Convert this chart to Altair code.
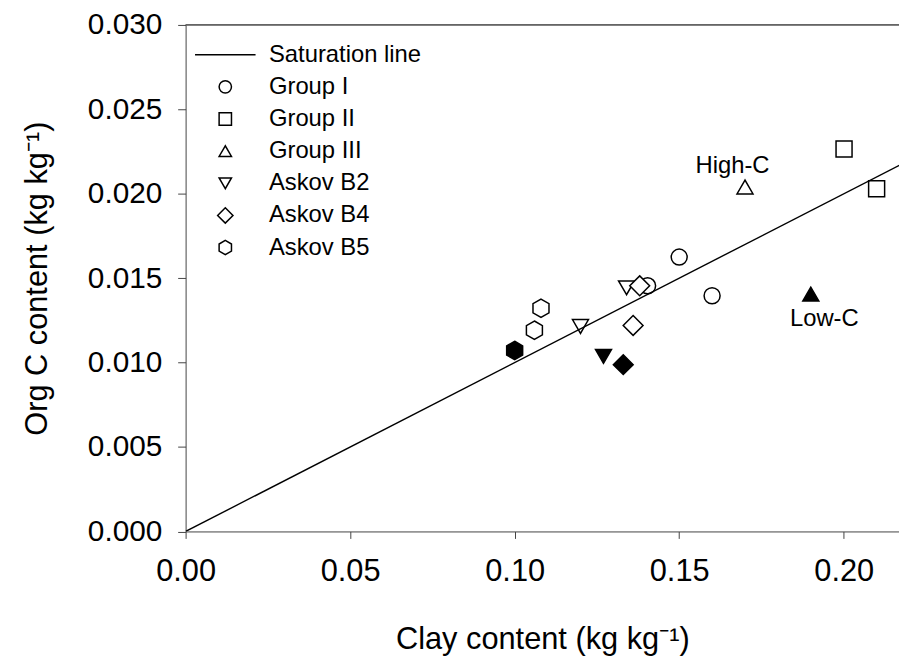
import altair as alt
import pandas as pd

# -----------------------
# Data
# -----------------------

groups = ["Group I", "Group I", "Group I",
          "Group II", "Group II",
          "Group III", "Group III",
          "Askov B2", "Askov B2", "Askov B2",
          "Askov B4", "Askov B4", "Askov B4",
          "Askov B5", "Askov B5", "Askov B5"]
clay = [0.150, 0.160, 0.1404,
        0.2001, 0.210,
        0.170, 0.190,
        0.120, 0.134, 0.127,
        0.138, 0.136, 0.133,
        0.108, 0.106, 0.100]
org_c = [0.01625, 0.01396, 0.01455,
         0.02265, 0.0203,
         0.0204, 0.01406,
         0.01214, 0.01443, 0.01037,
         0.01455, 0.0122, 0.00988,
         0.01322, 0.01192, 0.01072]
fill_kind = ["open", "open", "open",
             "open", "open",
             "open", "filled",
             "open", "open", "filled",
             "open", "open", "filled",
             "open", "open", "filled"]

# saturation line: C = clay / 10
sat_clay = [0.0, 0.22]
sat_c = [0.0, 0.022]

label_text = ["High-C", "Low-C"]
label_clay = [0.1662, 0.1941]
label_c = [0.02122, 0.01219]

legend_order = ["Saturation line", "Group I", "Group II", "Group III",
                "Askov B2", "Askov B4", "Askov B5"]
shape_range = [
    "M-4.9,0H4.9",
    "circle",
    "square",
    "triangle-up",
    "triangle-down",
    "M0,-1.24L1.24,0L0,1.24L-1.24,0Z",
    "M0,-1.15L1,-0.575L1,0.575L0,1.15L-1,0.575L-1,-0.575Z",
]

points_df = pd.DataFrame({"Group": groups, "Clay": clay, "OrgC": org_c, "Fill": fill_kind})
line_df = pd.DataFrame({"Clay": sat_clay, "OrgC": sat_c})
label_df = pd.DataFrame({"Text": label_text, "Clay": label_clay, "OrgC": label_c})

FONT = "Liberation Sans"
AXIS_COLOR = "#444444"
W = 719
H = 510.5

x_scale = alt.Scale(domain=[0, 0.2168], nice=False, zero=False)
y_scale = alt.Scale(domain=[0, 0.030], nice=False)

x_enc = alt.X(
    "Clay:Q",
    scale=x_scale,
    axis=alt.Axis(
        title="Clay content (kg kg⁻¹)",
        values=[0, 0.05, 0.10, 0.15, 0.20],
        format=".2f",
        grid=False,
        tickSize=7,
        labelPadding=18,
        labelFontSize=31,
        labelFlush=False,
        titlePadding=39,
    ),
)
y_enc = alt.Y(
    "OrgC:Q",
    scale=y_scale,
    axis=alt.Axis(
        title="Org C content (kg kg⁻¹)",
        values=[0, 0.005, 0.010, 0.015, 0.020, 0.025, 0.030],
        format=".3f",
        grid=False,
        tickSize=8,
        labelPadding=16,
        labelFontSize=30,
        labelFlush=False,
        titlePadding=34,
    ),
)

# -----------------------
# Layers
# -----------------------

sat_line = (
    alt.Chart(line_df)
    .mark_line(color="black", strokeWidth=1.4, clip=True)
    .encode(x=x_enc, y=y_enc)
)

top_frame = (
    alt.Chart(line_df)
    .mark_rule(color=AXIS_COLOR, strokeWidth=1)
    .encode(x=alt.value(0), x2=alt.value(W), y=alt.value(0))
)

points = (
    alt.Chart(points_df)
    .mark_point(filled=True, stroke="black", strokeWidth=1.5, size=260, opacity=1)
    .encode(
        x=x_enc,
        y=y_enc,
        shape=alt.Shape(
            "Group:N",
            scale=alt.Scale(domain=legend_order, range=shape_range),
            legend=alt.Legend(
                title=None,
                orient="none",
                legendX=28,
                legendY=18,
                padding=0,
                symbolSize=155,
                symbolFillColor="white",
                symbolStrokeColor="black",
                symbolStrokeWidth=1.5,
                labelFont=FONT,
                labelFontSize=24,
                labelColor="black",
                labelOffset=32,
                rowPadding=8.4,
            ),
        ),
        fill=alt.Fill(
            "Fill:N",
            scale=alt.Scale(domain=["open", "filled"], range=["white", "black"]),
            legend=None,
        ),
    )
)

labels = (
    alt.Chart(label_df)
    .mark_text(font=FONT, fontSize=24, color="black", align="center", baseline="alphabetic")
    .encode(x=x_enc, y=y_enc, text="Text:N")
)

chart = (
    (points + sat_line + top_frame + labels)
    .properties(
        width=W,
        height=H,
        autosize=alt.AutoSizeParams(type="none"),
        padding={"left": 179, "top": 14.5, "right": 0, "bottom": 128},
        background="white",
    )
    .configure_view(strokeWidth=0)
    .configure_axis(
        labelFont=FONT,
        titleFont=FONT,
        titleFontSize=31,
        titleFontWeight="normal",
        labelColor="black",
        titleColor="black",
        domainColor=AXIS_COLOR,
        tickColor=AXIS_COLOR,
        domainWidth=1,
        tickWidth=1,
    )
)

chart.save("out.html", embed_options={"renderer": "svg", "actions": False})
